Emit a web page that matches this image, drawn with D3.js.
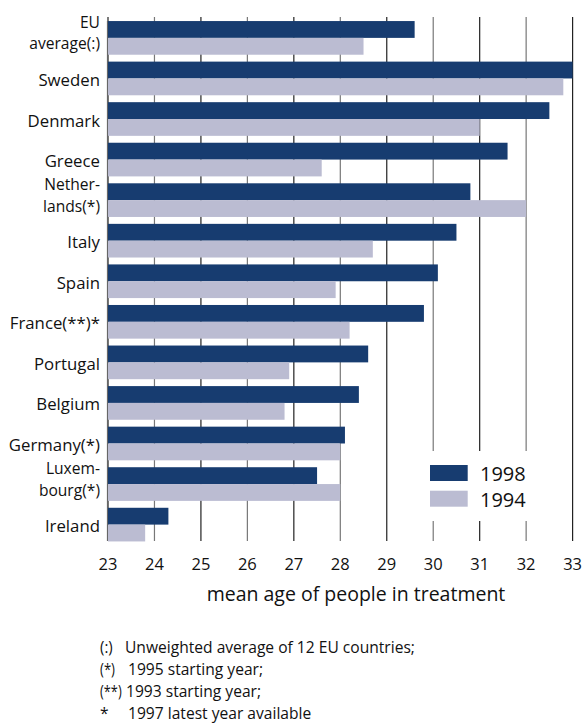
<!DOCTYPE html>
<html><head><meta charset="utf-8">
<script src="https://cdn.jsdelivr.net/npm/d3@7"></script>
<style>body{margin:0;background:#fff}svg{display:block}</style>
</head><body>
<script>
const categories = [["EU","average(:)"],["Sweden"],["Denmark"],["Greece"],["Nether-","lands(*)"],["Italy"],["Spain"],["France(**)*"],["Portugal"],["Belgium"],["Germany(*)"],["Luxem-","bourg(*)"],["Ireland"]];
const values1998 = [29.6,33.0,32.5,31.6,30.8,30.5,30.1,29.8,28.6,28.4,28.1,27.5,24.3];
const values1994 = [28.5,32.8,31.0,27.6,32.0,28.7,27.9,28.2,26.9,26.8,28.0,28.0,23.8];
const seriesNames = ["1998","1994"];
const tickValues = [23,24,25,26,27,28,29,30,31,32,33];
const axisTitle = "mean age of people in treatment";
const footnotes = [["(:)","Unweighted average of 12 EU countries;"],["(*)","1995 starting year;"],["(**)","1993 starting year;"],["*","1997 latest year available"]];

const W=583,H=723;
const dark="#173c70", light="#bbbcd2";
const font="'Open Sans', 'Noto Sans', sans-serif";
const svg=d3.select("body").append("svg").attr("width",W).attr("height",H).style("font-family",font);

const x=d3.scaleLinear().domain([23,33]).range([108,572.6]);
const y=d3.scaleBand().domain(d3.range(categories.length)).range([17,545.5]).paddingInner(0.17).paddingOuter(0.1);
const sub=d3.scaleBand().domain([0,1]).range([0,y.bandwidth()]);

// gridlines
svg.append("g").selectAll("line").data(tickValues).join("line")
  .attr("x1",d=>x(d)).attr("x2",d=>x(d)).attr("y1",17).attr("y2",541)
  .attr("stroke",(d,i)=>i%2? "#777":"#222").attr("stroke-width",1.2);

// left axis line
svg.append("line").attr("x1",x(23)-0.5).attr("x2",x(23)-0.5).attr("y1",21).attr("y2",541).attr("stroke","#666").attr("stroke-width",1.2);

// bars
const g=svg.append("g");
categories.forEach((c,i)=>{
  [values1998[i],values1994[i]].forEach((v,j)=>{
    g.append("rect").attr("x",x(23)).attr("y",y(i)+sub(j)).attr("width",x(v)-x(23)).attr("height",sub.bandwidth())
      .attr("fill",j===0?dark:light);
  });
});

// category labels
categories.forEach((c,i)=>{
  const cy=y(i)+y.bandwidth()/2;
  if(c.length===1){
    svg.append("text").attr("text-anchor","end").attr("font-size",16.8).attr("fill","#111")
      .attr("x",100).attr("y",cy+7.5).text(c[0]);
  } else {
    svg.append("text").attr("text-anchor","end").attr("font-size",15.6).attr("fill","#111")
      .attr("x",100).attr("y",cy-10).text(c[0]);
    svg.append("text").attr("text-anchor","end").attr("font-size",15.6).attr("fill","#111")
      .attr("x",100).attr("y",cy+11.5).text(c[1]);
  }
});

// tick labels
svg.append("g").selectAll("text").data(tickValues).join("text")
  .attr("x",d=>x(d)).attr("y",570).attr("text-anchor","middle").attr("font-size",16.5).attr("fill","#111").text(d=>d);

svg.append("text").attr("x",356).attr("y",601).attr("text-anchor","middle").attr("font-size",19.5).attr("fill","#111").text(axisTitle);

// legend
const lg=svg.append("g");
lg.append("rect").attr("x",402).attr("y",451).attr("width",158).attr("height",70).attr("fill","#fff");
[dark,light].forEach((col,j)=>{
  lg.append("rect").attr("x",430).attr("y",465+j*25.7).attr("width",37.7).attr("height",16).attr("fill",col);
  lg.append("text").attr("x",480).attr("y",481+j*25.7).attr("font-size",20).attr("fill","#111").text(seriesNames[j]);
});

// footnotes
const prefLen=[12.7,15,21.7,6];
const textX=[125,128,126,128];
footnotes.forEach((f,i)=>{
  const by=653.3+i*21.9;
  const p=svg.append("text").attr("x",100).attr("y",by).attr("font-size",15.6).attr("fill","#111").text(f[0]);
  if(i<3) p.attr("textLength",prefLen[i]).attr("lengthAdjust","spacingAndGlyphs");
  svg.append("text").attr("x",textX[i]).attr("y",by).attr("font-size",15.6).attr("fill","#111").text(f[1]);
});
</script>
</body></html>
